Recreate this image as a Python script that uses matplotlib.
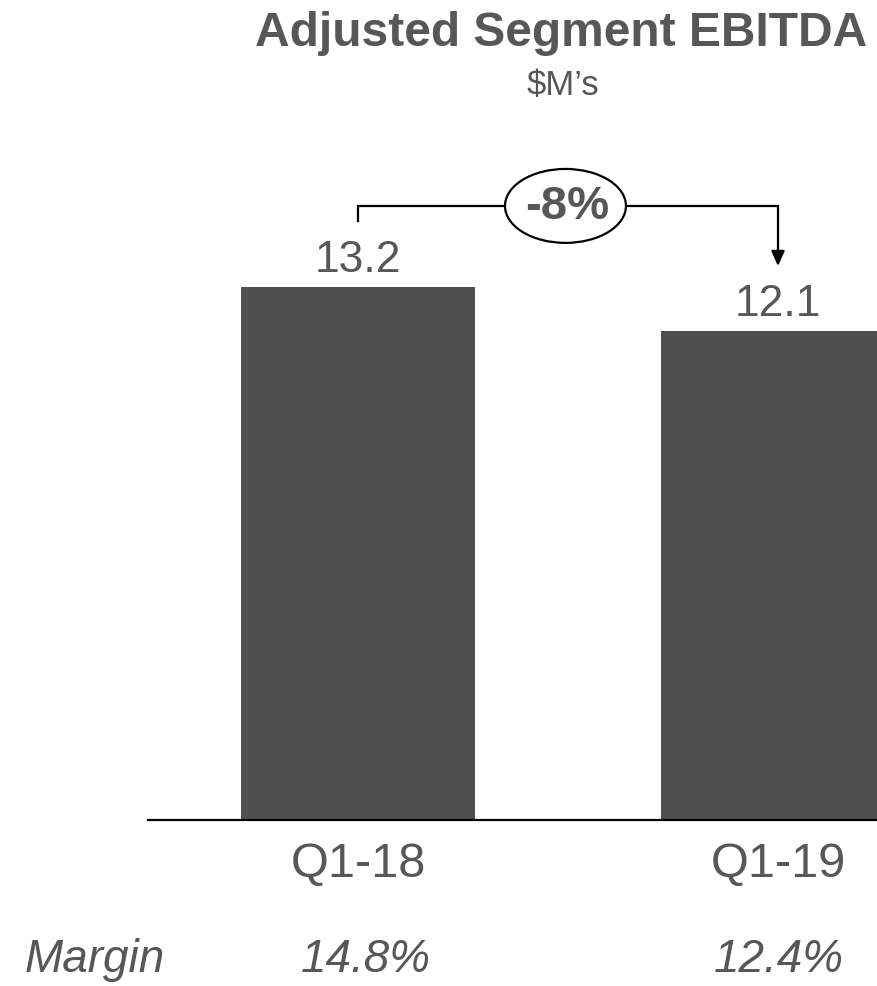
import matplotlib
matplotlib.use("Agg")
import matplotlib.pyplot as plt
from matplotlib.patches import Ellipse

categories = ["Q1-18", "Q1-19"]
values = [13.2, 12.1]
value_labels = ["13.2", "12.1"]
margins = ["14.8%", "12.4%"]
change_label = "-8%"
title = "Adjusted Segment EBITDA"
subtitle = "$M\u2019s"

plt.rcParams['font.family'] = ['Liberation Sans', 'DejaVu Sans']
TXT = "#575757"
BAR = "#505050"

fig = plt.figure(figsize=(8.78, 9.87), dpi=100)
ax = fig.add_axes([148/878, 166/987, 840/878, 808/987])
x = list(range(len(categories)))
ax.bar(x, values, width=0.555, color=BAR, zorder=2)
ax.set_xlim(-0.5, 1.5)
ax.set_ylim(0, 20)
for s in ["top", "right", "left"]:
    ax.spines[s].set_visible(False)
ax.spines["bottom"].set_linewidth(1.6)
ax.spines["bottom"].set_color("black")
ax.set_xticks([])
ax.set_yticks([])

for xi, v, lab in zip(x, values, value_labels):
    ax.text(xi, v + 0.4, lab, ha="center", va="baseline", fontsize=32, color=TXT)

# category labels
for xi, c in zip(x, categories):
    ax.text(xi, -1.38, c, ha="center", va="baseline", fontsize=35, color=TXT)

# margins row
ybase = 1 - 972/987
fig.text(95/878, ybase, "Margin", ha="center", va="baseline",
         fontsize=33, style="italic", color=TXT)
for xi, m in zip([366, 779], margins):
    fig.text(xi/878, ybase, m, ha="center", va="baseline",
             fontsize=33, style="italic", color=TXT)

# bracket
ybr = max(values) + 2.0
ax.plot([x[0], x[0], x[1]], [max(values) + 1.63, ybr, ybr], color="black", lw=1.6,
        solid_joinstyle="miter", clip_on=False, zorder=3)
ax.annotate("", xy=(x[1], values[1] + 1.61), xytext=(x[1], ybr),
            arrowprops=dict(arrowstyle="-|>,head_length=0.9,head_width=0.4",
                            color="black", lw=1.6, shrinkA=0, shrinkB=0),
            annotation_clip=False)
xm = 0.494
ax.add_patch(Ellipse((xm, ybr), 0.288, 1.83, facecolor="white", edgecolor="black",
                     lw=1.6, zorder=4, clip_on=False))
ax.text(xm + 0.005, ybr, change_label, ha="center", va="center", fontsize=34,
        fontweight="bold", color=TXT, zorder=5)

fig.text(561/878, 1 - 46/987, title, ha="center", va="baseline", fontsize=34.5,
         fontweight="bold", color=TXT)
fig.text(563/878, 1 - 95/987, subtitle, ha="center", va="baseline", fontsize=25,
         color=TXT)

fig.savefig("out.png", dpi=100)
